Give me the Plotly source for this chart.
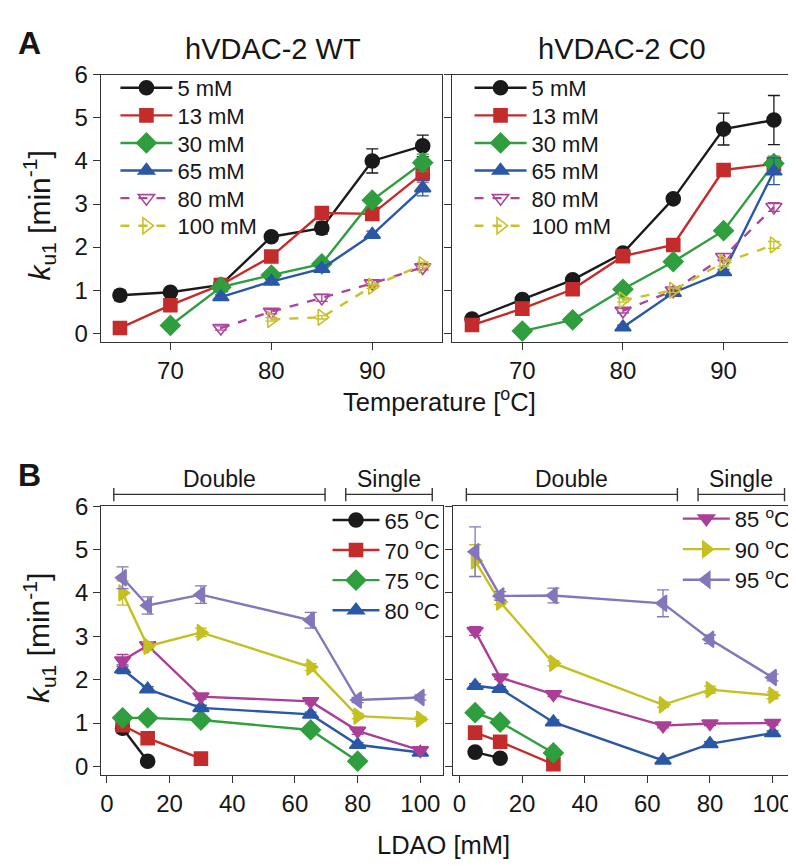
import plotly.graph_objects as go

# ---------------- data ----------------
temps = [65, 70, 75, 80, 85, 90, 95]          # degC
concs = [5, 13, 30, 65, 80, 100]               # LDAO mM
conc_names = ["5 mM", "13 mM", "30 mM", "65 mM", "80 mM", "100 mM"]
temp_names = ["65 <sup>o</sup>C", "70 <sup>o</sup>C", "75 <sup>o</sup>C", "80 <sup>o</sup>C",
              "85 <sup>o</sup>C", "90 <sup>o</sup>C", "95 <sup>o</sup>C"]

# hVDAC-2 WT, k_u1 per LDAO concentration (columns = temps)
wt_5 = [0.88, 0.95, 1.12, 2.24, 2.44, 4.00, 4.35]
wt_13 = [0.12, 0.65, 1.12, 1.78, 2.79, 2.77, 3.71]
wt_30 = [None, 0.18, 1.07, 1.35, 1.61, 3.09, 3.96]
wt_65 = [None, None, 0.84, 1.20, 1.50, 2.29, 3.37]
wt_80 = [None, None, 0.12, 0.50, 0.82, 1.16, 1.53]
wt_100 = [None, None, None, 0.32, 0.37, 1.09, 1.59]

wt_5_err = [0.12, 0.06, 0.05, 0.10, 0.14, 0.28, 0.25]
wt_13_err = [0.04, 0.05, 0.05, 0.06, 0.08, 0.10, 0.20]
wt_30_err = [None, 0.04, 0.05, 0.06, 0.06, 0.10, 0.20]
wt_65_err = [None, None, 0.05, 0.05, 0.06, 0.08, 0.18]
wt_80_err = [None, None, 0.05, 0.05, 0.08, 0.06, 0.06]
wt_100_err = [None, None, None, 0.04, 0.04, 0.05, 0.06]

# hVDAC-2 C0
c0_5 = [0.33, 0.78, 1.24, 1.86, 3.12, 4.74, 4.95]
c0_13 = [0.19, 0.57, 1.02, 1.79, 2.05, 3.79, 3.93]
c0_30 = [None, 0.05, 0.31, 1.02, 1.66, 2.38, 3.94]
c0_65 = [None, None, None, 0.14, 0.94, 1.42, 3.76]
c0_80 = [None, None, None, 0.52, 0.99, 1.77, 2.93]
c0_100 = [None, None, None, 0.77, 1.00, 1.64, 2.05]

c0_5_err = [0.05, 0.05, 0.05, 0.05, 0.10, 0.37, 0.57]
c0_13_err = [0.05, 0.05, 0.05, 0.05, 0.05, 0.06, 0.10]
c0_30_err = [None, 0.04, 0.04, 0.05, 0.05, 0.06, 0.17]
c0_65_err = [None, None, None, 0.05, 0.05, 0.06, 0.31]
c0_80_err = [None, None, None, 0.05, 0.05, 0.08, 0.10]
c0_100_err = [None, None, None, 0.05, 0.05, 0.08, 0.08]

x_ticks_temp = [70, 80, 90]
x_ticks_ldao = [0, 20, 40, 60, 80, 100]
y_ticks = [0, 1, 2, 3, 4, 5, 6]
double_range = [2.2, 69.6]
single_range = [76.2, 103.8]

wt_rates = [wt_5, wt_13, wt_30, wt_65, wt_80, wt_100]
wt_errs = [wt_5_err, wt_13_err, wt_30_err, wt_65_err, wt_80_err, wt_100_err]
c0_rates = [c0_5, c0_13, c0_30, c0_65, c0_80, c0_100]
c0_errs = [c0_5_err, c0_13_err, c0_30_err, c0_65_err, c0_80_err, c0_100_err]

# ---------------- styles ----------------
FONT = "Liberation Sans, Arial, sans-serif"
TICKFONT = "Liberation Sans Narrow, Liberation Sans, Arial, sans-serif"
AX = "#333333"
TXT = "#161616"
conc_colors = ["#1a1a1a", "#c42c2c", "#2f9e3e", "#2a58a6", "#ad449c", "#c8c228"]
conc_symbols = ["circle", "square", "diamond", "triangle-up", "triangle-down-open", "triangle-right-open"]
conc_dash = ["solid", "solid", "solid", "solid", "dash", "dash"]
conc_sizes = [14, 13, 15, 14, 14, 14]
temp_colors = ["#1a1a1a", "#c42c2c", "#2f9e3e", "#2a58a6", "#ab3f98", "#c4c020", "#8576bb"]
temp_symbols = ["circle", "square", "diamond", "triangle-up", "triangle-down", "triangle-right", "triangle-left"]
temp_sizes = [14, 13, 15, 14, 14, 14, 14]

W, H = 796, 866


def px_x(v):
    return v / W


def px_y(v):
    return 1 - v / H


fig = go.Figure()
legend_layouts = {}
legend_count = [0]


def new_legend(x_px, y_px, itemwidth):
    legend_count[0] += 1
    key = "legend" if legend_count[0] == 1 else "legend%d" % legend_count[0]
    legend_layouts[key] = dict(x=px_x(x_px), y=px_y(y_px), xanchor="left", yanchor="middle",
                               bgcolor="rgba(0,0,0,0)", borderwidth=0, itemwidth=itemwidth,
                               font=dict(family=FONT, size=22, color=TXT))
    return key


def add(xs, ys, es, ax, name, color, symbol, size, dash, legend_pos):
    px, py, pe = [], [], []
    for x, y, e in zip(xs, ys, es):
        if y is not None:
            px.append(x)
            py.append(y)
            pe.append(e)
    kw = dict(showlegend=False)
    if legend_pos is not None:
        kw = dict(showlegend=True, legend=new_legend(*legend_pos))
    fig.add_trace(go.Scatter(
        x=px, y=py, xaxis="x" + ax, yaxis="y" + ax, name=name,
        mode="lines+markers",
        line=dict(color=color, width=2.4, dash=dash),
        marker=dict(symbol=symbol, size=size, color=color,
                    line=dict(color=color, width=1.6)),
        error_y=dict(type="data", array=pe, color=color, thickness=1.3, width=6),
        **kw,
    ))


# top panels: k vs temperature (legend rows every ~28 px)
for i in range(len(concs)):
    add(temps, wt_rates[i], wt_errs[i], "", conc_names[i], conc_colors[i], conc_symbols[i],
        conc_sizes[i], conc_dash[i], (106.7, 67.5 + 28.2 * i, 52))
for i in range(len(concs)):
    add(temps, c0_rates[i], c0_errs[i], "2", conc_names[i], conc_colors[i], conc_symbols[i],
        conc_sizes[i], conc_dash[i], (461.7, 67.5 + 28.2 * i, 52))

# bottom panels: k vs LDAO
for j in range(len(temps)):
    pos = (319.3, 509.3 + 30.8 * j, 47) if j < 4 else None
    add(concs, [r[j] for r in wt_rates], [e[j] for e in wt_errs], "3", temp_names[j],
        temp_colors[j], temp_symbols[j], temp_sizes[j], "solid", pos)
for j in range(len(temps)):
    pos = (670.5, 508.0 + 31.2 * (j - 4), 47) if j >= 4 else None
    add(concs, [r[j] for r in c0_rates], [e[j] for e in c0_errs], "4", temp_names[j],
        temp_colors[j], temp_symbols[j], temp_sizes[j], "solid", pos)

tickfont = dict(family=TICKFONT, size=24, color=TXT)


def xax(domain, rng, tickvals, anchor):
    return dict(domain=domain, range=rng, tickvals=tickvals, showline=True, mirror=True,
                linecolor=AX, linewidth=1.4, ticks="outside", ticklen=7, tickwidth=1.2,
                tickcolor=AX, showgrid=False, zeroline=False, tickfont=tickfont, anchor=anchor)


def yax(domain, anchor, labels):
    return dict(domain=domain, range=[-0.2, 6.0], tickvals=y_ticks, showline=True, mirror=True,
                linecolor=AX, linewidth=1.4, ticks="outside", ticklen=7, tickwidth=1.2,
                tickcolor=AX, showgrid=False, zeroline=False, tickfont=tickfont,
                showticklabels=labels, anchor=anchor)


top_dom = [px_y(327), px_y(54)]
bot_dom = [px_y(770), px_y(495)]

fig.update_layout(
    width=W, height=H,
    margin=dict(l=0, r=0, t=0, b=0),
    paper_bgcolor="white", plot_bgcolor="white",
    font=dict(family=FONT, color=TXT),
    xaxis=xax([px_x(92), px_x(434)], [63.1, 96.9], x_ticks_temp, "y"),
    yaxis=yax(top_dom, "x", True),
    xaxis2=xax([px_x(444), px_x(786)], [63.0, 96.9], x_ticks_temp, "y2"),
    yaxis2=yax(top_dom, "x2", False),
    xaxis3=xax([px_x(92.5), px_x(435)], [-1.8, 107.2], x_ticks_ldao, "y3"),
    yaxis3=yax(bot_dom, "x3", True),
    xaxis4=xax([px_x(445), px_x(785)], [-2.1, 106.2], x_ticks_ldao, "y4"),
    yaxis4=yax(bot_dom, "x4", False),
    **legend_layouts,
)

ann = []


def text(x, y, s, size, **kw):
    ann.append(dict(x=px_x(x), y=px_y(y), xref="paper", yref="paper", text=s, showarrow=False,
                    font=dict(family=FONT, size=size, color=TXT), xanchor="center",
                    yanchor="middle", **kw))


text(21, 21, "<b>A</b>", 32)
text(21, 463, "<b>B</b>", 32)
text(265, 28, "hVDAC-2 WT", 29)
text(615, 28, "hVDAC-2 C0", 29)
text(432, 386, "Temperature [<sup>o</sup>C]", 25.5)
text(436, 841, "LDAO [mM]", 25.5)
text(30, 198, "<i>k</i><sub>u1</sub> [min<sup>-1</sup>]", 30, textangle=-90)
text(30, 630, "<i>k</i><sub>u1</sub> [min<sup>-1</sup>]", 30, textangle=-90)

shapes = []
for xr in ["x3", "x4"]:
    for rng, lab in [(double_range, "Double"), (single_range, "Single")]:
        shapes.append(dict(type="line", xref=xr, yref="paper", x0=rng[0], x1=rng[1],
                           y0=px_y(483), y1=px_y(483), line=dict(color=AX, width=1.4)))
        for xv in rng:
            shapes.append(dict(type="line", xref=xr, yref="paper", x0=xv, x1=xv,
                               y0=px_y(476.5), y1=px_y(490), line=dict(color=AX, width=1.4)))
        ann.append(dict(x=(rng[0] + rng[1]) / 2, y=px_y(467), xref=xr, yref="paper", text=lab,
                        showarrow=False, font=dict(family=FONT, size=23, color=TXT),
                        xanchor="center", yanchor="middle"))

fig.update_layout(annotations=ann, shapes=shapes)
fig.write_html("out.html")
